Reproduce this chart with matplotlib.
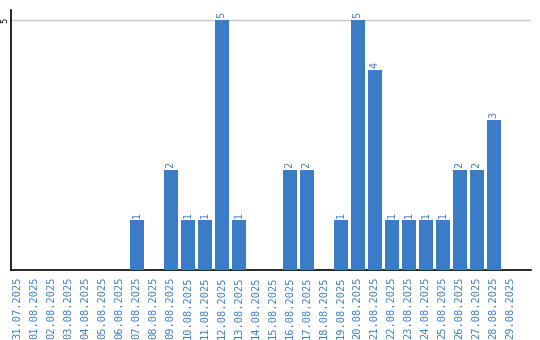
import matplotlib
matplotlib.use("Agg")
import matplotlib.pyplot as plt

datas = [
    "31.07.2025", "01.08.2025", "02.08.2025", "03.08.2025", "04.08.2025",
    "05.08.2025", "06.08.2025", "07.08.2025", "08.08.2025", "09.08.2025",
    "10.08.2025", "11.08.2025", "12.08.2025", "13.08.2025", "14.08.2025",
    "15.08.2025", "16.08.2025", "17.08.2025", "18.08.2025", "19.08.2025",
    "20.08.2025", "21.08.2025", "22.08.2025", "23.08.2025", "24.08.2025",
    "25.08.2025", "26.08.2025", "27.08.2025", "28.08.2025", "29.08.2025",
]
valores = [0, 0, 0, 0, 0, 0, 0, 1, 0, 2,
           1, 1, 5, 1, 0, 0, 2, 2, 0, 1,
           5, 4, 1, 1, 1, 1, 2, 2, 3, 0]
yticks = [5]

azul = "#3b7dc4"

fig = plt.figure(figsize=(5.4, 3.4), dpi=100)
ax = fig.add_axes([0.0195, 0.206, 0.964, 0.764])

x = list(range(len(datas)))
ax.bar(x, valores, width=0.82, color=azul, zorder=3)

for i, v in enumerate(valores):
    if v > 0:
        ax.text(i, v + 0.04, str(v), rotation=90, ha="center", va="bottom",
                fontsize=7, color=azul)

ax.set_xlim(-0.41, 30.2)
ax.set_ylim(0, 5.2)
ax.set_yticks(yticks)
ax.set_yticklabels([str(t) for t in yticks], rotation=90, va="center",
                   ha="center", fontsize=6)
ax.tick_params(axis="y", length=0, pad=4)
ax.yaxis.grid(True, color="#c8c8c8", linewidth=1, zorder=0)

ax.set_xticks(x)
ax.set_xticklabels(datas, rotation=90, fontsize=7.5, color=azul,
                   family="DejaVu Sans Mono")
ax.tick_params(axis="x", length=0, pad=5)

ax.spines["top"].set_visible(False)
ax.spines["right"].set_visible(False)
ax.spines["left"].set_linewidth(1.2)
ax.spines["bottom"].set_linewidth(1.2)

fig.savefig("out.png", dpi=100)
